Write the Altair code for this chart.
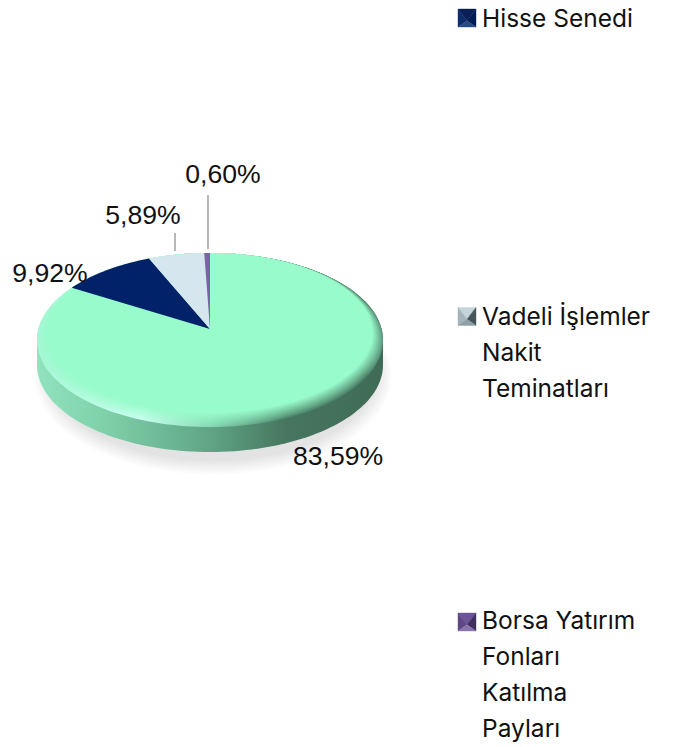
import math
import altair as alt
import pandas as pd

# ---------- data ----------
slice_names = ["Para Piyasası", "Hisse Senedi", "Vadeli İşlemler Nakit Teminatları", "Borsa Yatırım Fonları Katılma Payları"]
slice_shares = [83.59, 9.92, 5.89, 0.60]
slice_labels = ["83,59%", "9,92%", "5,89%", "0,60%"]
legend_lines = [["Hisse Senedi"], ["Vadeli İşlemler", "Nakit", "Teminatları"], ["Borsa Yatırım", "Fonları", "Katılma", "Payları"]]

# ---------- layout ----------
W, H = 668, 735
CX, CY, RX, RY, DEPTH = 210.0, 340.0, 173.0, 87.0, 25.0
APEX_Y = 329.0
SKEW = (CY - APEX_Y) / RY
BEV_X, BEV_Y = 0.06, 0.08


def ux(px):
    return (px - CX) / RX


def uy(py):
    return (CY - py) / RY


x_scale = alt.Scale(domain=[ux(8), ux(8 + W)], range=[0, W], nice=False, zero=False)
y_scale = alt.Scale(domain=[uy(8), uy(8 + H)], range=[0, H], nice=False, zero=False)
X = alt.X("x:Q", scale=x_scale, axis=None)
Y = alt.Y("y:Q", scale=y_scale, axis=None)


def poly(points, fill, opacity=1.0):
    df = pd.DataFrame(points, columns=["x", "y"])
    df["i"] = range(len(df))
    return alt.Chart(df).mark_line(fill=fill, stroke="transparent", strokeWidth=0, fillOpacity=opacity, interpolate="linear", clip=False).encode(
        x=X, y=Y, order=alt.Order("i:Q")
    )


def ellipse(cx=0.0, cy=0.0, sx=1.0, sy=1.0, n=180):
    return [(cx + sx * math.cos(2 * math.pi * i / n), cy + sy * math.sin(2 * math.pi * i / n)) for i in range(n + 1)]


def rim(t, sx=1.0, sy=1.0, cy=0.0):
    """Point of the tilted disc's edge at clockwise angle t from the top, seen in perspective."""
    u, v = math.sin(t), math.cos(t)
    d = 1 + SKEW * v
    return (sx * u * math.sqrt(1 - SKEW ** 2) / d, cy + sy * (v + SKEW) / d)


def wedge(a0, a1, sx=1.0, sy=1.0, cy=0.0):
    n = max(2, int(abs(a1 - a0) * 60))
    pts = [rim(a0 + (a1 - a0) * i / n, sx, sy, cy) for i in range(n + 1)]
    apex = (0.0, uy(APEX_Y))
    return [apex] + pts + [apex]


def hexmix(a, b, t):
    ca = [int(a[i:i + 2], 16) for i in (1, 3, 5)]
    cb = [int(b[i:i + 2], 16) for i in (1, 3, 5)]
    return "#" + "".join(f"{round(p + (q - p) * t):02x}" for p, q in zip(ca, cb))


def hgrad(stops):
    return alt.Gradient(
        gradient="linear", x1=0, x2=1, y1=0, y2=0,
        stops=[alt.GradientStop(offset=o, color=c) for o, c in stops],
    )


FACE = "#98fbcb"
layers = []

# soft ground shadow
for k in range(7):
    grow = 1 - k * 0.012
    layers.append(poly(ellipse(ux(CX + 3), uy(CY + DEPTH + 11 - k), 1.03 * grow, 1.13 * grow), "#808080", 0.036))

# side wall of the disc
dy = DEPTH / RY
body = [(math.cos(math.pi * i / 90), math.sin(math.pi * i / 90)) for i in range(91)]
body += [(math.cos(math.pi + math.pi * i / 90), -dy + math.sin(math.pi + math.pi * i / 90)) for i in range(91)]
body.append(body[0])
layers.append(poly(body, hgrad([(0, "#8fe3bd"), (0.2, "#7fd0a9"), (0.5, "#5fa585"), (0.72, "#47765f"), (1, "#3f6b56")])))

# bevel between wall and top face
RIM_STOPS = [(0, "#a6f6d5"), (0.3, "#c9fff0"), (0.5, "#86d8b2"), (0.72, "#4f8a6e"), (0.95, "#4a7d65"), (1, "#5d9a7f")]
STEPS = 12
for k in range(STEPS):
    t = k / STEPS
    sx = 1 - BEV_X * t
    sy = 1 - BEV_Y * t
    cy = 1 - sy
    stops = [(o, hexmix(c, FACE, t ** 0.9)) for o, c in RIM_STOPS]
    layers.append(poly(ellipse(0, cy, sx, sy), hgrad(stops)))

# slices
colors = [FACE, "#012169", "#d6e6ef", "#7e62a8"]
a = 0.0
angles = []
for s in slice_shares:
    b = a + 2 * math.pi * s / 100
    angles.append((a, b))
    a = b
layers.append(poly(wedge(*angles[0], sx=1 - BEV_X, sy=1 - BEV_Y, cy=BEV_Y), colors[0]))
for i in (1, 2, 3):
    layers.append(poly(wedge(*angles[i]), colors[i]))

# leader lines
leaders = pd.DataFrame({"x": [ux(208), ux(175)], "y": [uy(195), uy(233)], "y2": [uy(249), uy(251)]})
layers.append(alt.Chart(leaders).mark_rule(color="#a6a6a6", strokeWidth=1.6).encode(x=X, y=Y, y2="y2:Q"))

# slice labels
labels = pd.DataFrame({
    "x": [ux(338), ux(50), ux(143), ux(223)],
    "y": [uy(457), uy(274), uy(216), uy(175)],
    "t": slice_labels,
})
layers.append(alt.Chart(labels).mark_text(font="Liberation Sans", fontSize=26.6, color="#111111", align="center", baseline="middle").encode(x=X, y=Y, text="t:N"))

# legend
line_rows = []
starts = [20, 318, 622]
for block, y0 in zip(legend_lines, starts):
    for j, txt in enumerate(block):
        line_rows.append({"x": ux(482), "y": uy(y0 + 36 * j), "t": txt})
layers.append(alt.Chart(pd.DataFrame(line_rows)).mark_text(font="Inter", fontSize=24.5, color="#111111", align="left", baseline="middle").encode(x=X, y=Y, text="t:N"))

PATHS = {
    "top": "M-1,-1L1,-1L0,0.3Z",
    "left": "M-1,-1L0,0.3L-1,1Z",
    "right": "M1,-1L0,0.3L1,1Z",
    "bottom": "M-1,1L1,1L0,0.3Z",
}
swatches = [
    (uy(18), {"top": "#0a1f55", "left": "#0c2c6c", "right": "#001c55", "bottom": "#2a4a84"}),
    (uy(316.5), {"top": "#c5d4db", "left": "#a4b4ba", "right": "#46555a", "bottom": "#8d9ea4"}),
    (uy(622), {"top": "#6d5499", "left": "#5f4684", "right": "#40305f", "bottom": "#8a74ad"}),
]
for yy, cols in swatches:
    for side, path in PATHS.items():
        dfp = pd.DataFrame({"x": [ux(467)], "y": [yy]})
        layers.append(alt.Chart(dfp).mark_point(shape=path, filled=True, size=324, color=cols[side], stroke=cols[side], opacity=1, strokeWidth=0.4).encode(x=X, y=Y))

chart = alt.layer(*layers).properties(
    width=W, height=H, padding=0, autosize=alt.AutoSizeParams(type="none"), background="white"
).configure_view(stroke=None)

chart.save("out.html", embed_options={"renderer": "svg", "actions": False})
